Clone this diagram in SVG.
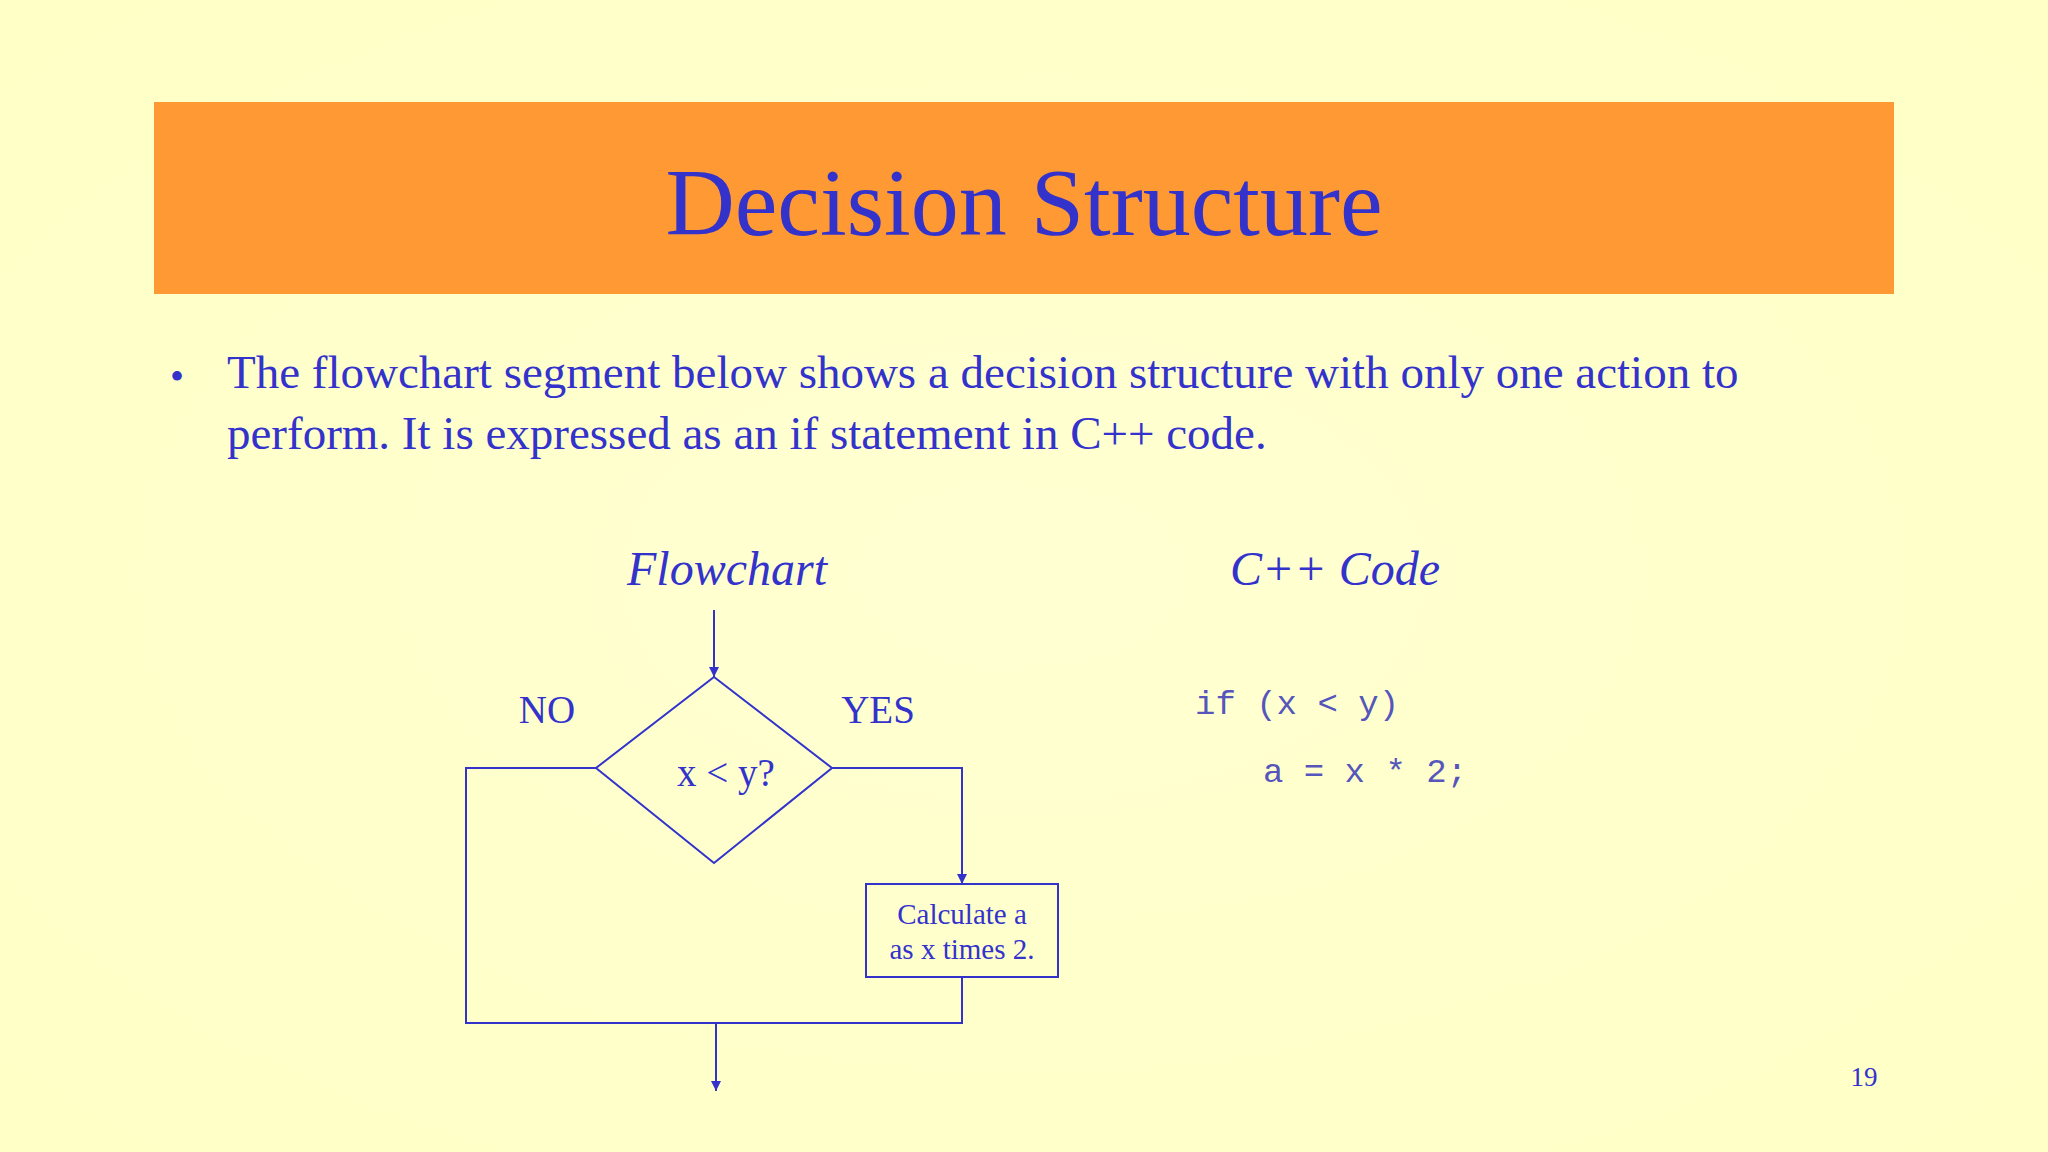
<svg xmlns="http://www.w3.org/2000/svg" width="2048" height="1152" viewBox="0 0 2048 1152">
<defs>
<marker id="ah" viewBox="0 0 10 10" refX="10" refY="5" markerWidth="10" markerHeight="10" markerUnits="userSpaceOnUse" orient="auto"><path d="M0,0 L10,5 L0,10 z" fill="#3333CC"/></marker>
<radialGradient id="bg" cx="0.5" cy="0.5" r="0.8"><stop offset="0" stop-color="#FFFFD2"/><stop offset="1" stop-color="#FFFFC4"/></radialGradient>
</defs>
<style>
.t{font-family:"Liberation Serif",serif;fill:#3333CC}
.c{font-family:"Liberation Mono",monospace;fill:#5555BB;font-size:34px}
.l{stroke:#3333CC;stroke-width:2;fill:none}
</style>
<rect width="2048" height="1152" fill="url(#bg)"/>
<rect x="154" y="102" width="1740" height="192" fill="#FF9933"/>
<text class="t" x="1024" y="235" font-size="96" text-anchor="middle">Decision Structure</text>
<text class="t" x="170" y="390" font-size="40">•</text>
<text class="t" x="227" y="388" font-size="47">The flowchart segment below shows a decision structure with only one action to</text>
<text class="t" x="227" y="449" font-size="47">perform. It is expressed as an if statement in C++ code.</text>
<text class="t" x="727" y="585" font-size="48" font-style="italic" text-anchor="middle">Flowchart</text>
<text class="t" x="1335" y="585" font-size="48" font-style="italic" text-anchor="middle">C++ Code</text>
<g id="connectors">
<line class="l" x1="714" y1="610" x2="714" y2="677" marker-end="url(#ah)"/>
<polyline class="l" points="596,768 466,768 466,1023 962,1023 962,977"/>
<polyline class="l" points="832,768 962,768 962,884" marker-end="url(#ah)"/>
<line class="l" x1="716" y1="1023" x2="716" y2="1091" marker-end="url(#ah)"/>
</g>
<g id="decision">
<polygon class="l" points="714,677 832,768 714,863 596,768"/>
<text class="t" x="726" y="786" font-size="39" text-anchor="middle">x &lt; y?</text>
</g>
<g id="labels">
<text class="t" x="547" y="723" font-size="39" text-anchor="middle">NO</text>
<text class="t" x="878" y="723" font-size="39" text-anchor="middle">YES</text>
</g>
<g id="process">
<rect class="l" x="866" y="884" width="192" height="93"/>
<text class="t" x="962" y="924" font-size="29" text-anchor="middle">Calculate a</text>
<text class="t" x="962" y="959" font-size="29" text-anchor="middle">as x times 2.</text>
</g>
<g id="code">
<text class="c" x="1195" y="714">if (x &lt; y)</text>
<text class="c" x="1263" y="782">a = x * 2;</text>
</g>
<text class="t" x="1864" y="1086" font-size="27" text-anchor="middle">19</text>
</svg>
